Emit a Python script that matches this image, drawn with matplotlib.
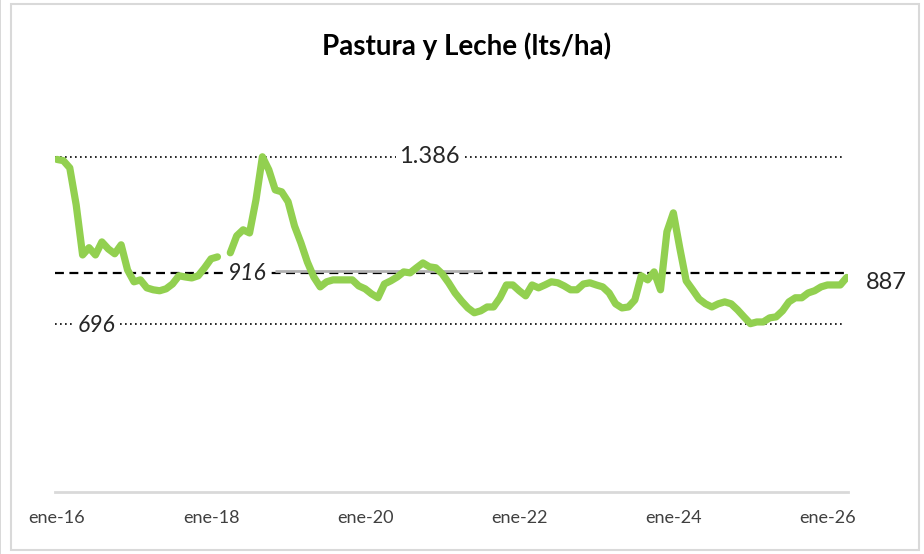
from matplotlib import pyplot as plt
from matplotlib.patches import Rectangle
import numpy as np
import pandas as pd

# monthly lts/ha, ene-16 .. abr-26 (one missing month in feb-18)
leche = [
    1375, 1370, 1340, 1187, 980, 1010, 980, 1034, 1005, 985, 1022, 918,
    869, 877, 844, 836, 832, 840, 860, 894, 889, 885, 894, 927,
    964, 972, np.nan, 989, 1059, 1084, 1071, 1208, 1386, 1332, 1249, 1241,
    1200, 1100, 1030, 951, 889, 848, 869, 877, 877, 877, 877, 852,
    840, 819, 803, 860, 873, 889, 910, 906, 927, 947, 931, 927,
    902, 865, 823, 790, 761, 741, 749, 765, 765, 803, 856, 856,
    832, 811, 856, 844, 856, 869, 865, 852, 836, 836, 860, 865,
    856, 848, 823, 778, 761, 765, 794, 894, 877, 910, 836, 1076,
    1154, 1009, 873, 836, 798, 778, 765, 778, 786, 778, 753, 724,
    696, 703, 703, 720, 724, 749, 786, 803, 803, 823, 832, 848,
    856, 856, 856, 887,
]
fechas = pd.date_range("2016-01-01", periods=len(leche), freq="MS")
promedio = 916
tick_lbls = ["ene-16", "ene-18", "ene-20", "ene-22", "ene-24", "ene-26"]

GREEN = "#92D050"


def fmt_es(v):
    return f"{v:,.0f}".replace(",", ".")


def make_figure(output_path="out.png"):
    plt.rcParams["font.family"] = ["Lato", "DejaVu Sans"]
    fig = plt.figure(figsize=(9.24, 5.54), dpi=100)
    ax = fig.add_axes([55 / 924, 62 / 554, 793 / 924, 387 / 554])

    x = np.arange(len(leche))
    y = np.array(leche, dtype=float)
    vmax, vmin, last = np.nanmax(y), np.nanmin(y), y[-1]
    x0, x1 = -0.3, len(leche) - 1.4

    # reference lines
    ax.hlines(vmax, x0, x1, colors="black", linestyles=(0, (1, 2)), lw=1.2)
    ax.hlines(vmin, x0, x1, colors="black", linestyles=(0, (1, 2)), lw=1.2)
    ax.hlines(promedio - 12, x0, x1, colors="black", linestyles=(0, (4, 2.5)), lw=1.6)
    ax.hlines(promedio - 4, 34, 66, colors="#B0B0B0", lw=2)

    ax.plot(x, y, color=GREEN, lw=5.2, solid_capstyle="round", solid_joinstyle="round", zorder=3)

    box = dict(facecolor="white", edgecolor="none", pad=2)
    ax.text(58, vmax, fmt_es(vmax), ha="center", va="center", fontsize=17, color="#262626", bbox=box, zorder=4)
    ax.text(29.6, promedio - 12, fmt_es(promedio), ha="center", va="center", fontsize=16.5, style="italic",
            color="#262626", bbox=box, zorder=4)
    ax.text(6.2, vmin - 6, fmt_es(vmin), ha="center", va="center", fontsize=16.5, style="italic",
            color="#262626", bbox=box, zorder=4)
    ax.text(129.2, last - 20, fmt_es(last), ha="center", va="center", fontsize=17, color="#262626",
            clip_on=False)

    ax.set_xlim(-0.3, len(leche) - 0.8)
    ax.set_ylim(0, 1600)
    ax.set_xticks(np.arange(0, len(leche), 24))
    ax.set_xticklabels(tick_lbls, fontsize=13, color="#404040")
    ax.tick_params(axis="x", length=0, pad=13)
    ax.set_yticks([])
    for s in ["top", "left", "right"]:
        ax.spines[s].set_visible(False)
    ax.spines["bottom"].set_color("#D9D9D9")
    ax.spines["bottom"].set_linewidth(2)

    fig.text(467 / 924, 1 - 46 / 554, "Pastura y Leche (lts/ha)", ha="center", va="center",
             fontsize=20, fontweight="bold", color="black")

    # chart frame
    fig.patches.append(Rectangle((11 / 924, 4 / 554), 908 / 924, 546 / 554, transform=fig.transFigure,
                                 fill=False, edgecolor="#D9D9D9", lw=1.5))
    fig.patches.append(Rectangle((0, 0), 1 / 924, 1, transform=fig.transFigure,
                                 fill=True, facecolor="#D9D9D9", edgecolor="none"))

    fig.savefig(output_path, dpi=100)
    return fig, ax


if __name__ == "__main__":
    make_figure()
